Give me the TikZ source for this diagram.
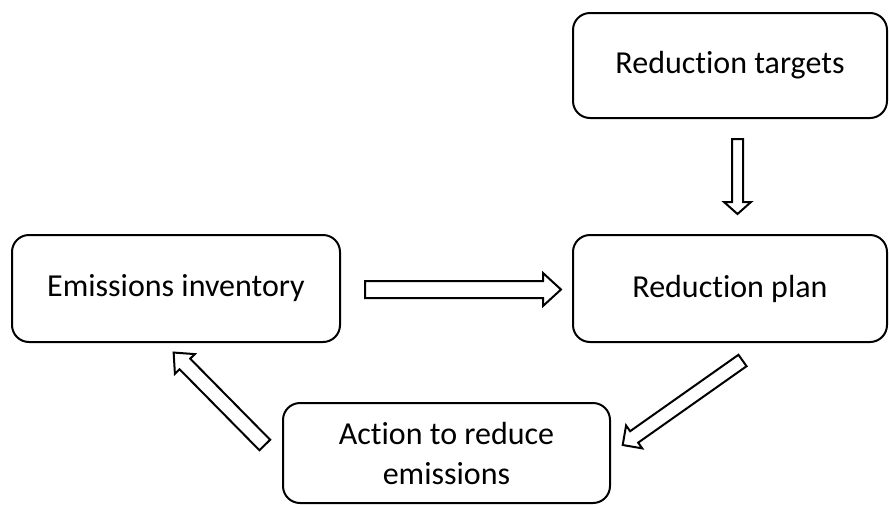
\documentclass[tikz,border=0pt]{standalone}
\usepackage{fontspec}
\setmainfont[Ligatures=NoCommon]{Carlito}
\usetikzlibrary{calc}

\tikzset{
    stage/.style={draw, line width=2pt, rounded corners=17pt, align=center,
        inner sep=0pt, font=\fontsize{32}{40}\selectfont},
    arrowline/.style={draw, line width=2pt, line join=miter, fill=white}
}

% tail, tip, half shaft width, half head width, head length
\newcommand{\hollowarrow}[5]{%
    \draw[arrowline] let \p1=($(#2)-(#1)$), \n1={atan2(\y1,\x1)}, \n2={veclen(\x1,\y1)} in
        [shift={(#1)}, rotate=\n1]
        (0,#3) -- ({\n2-#5},#3) -- ({\n2-#5},#4) -- ({\n2},0)
        -- ({\n2-#5},-#4) -- ({\n2-#5},-#3) -- (0,-#3) -- cycle;
}

\begin{document}
\begin{tikzpicture}[x=1pt, y=-1pt]
    \useasboundingbox (0,0) rectangle (889,504);

    \node[stage, minimum width=314pt, minimum height=105pt] (targets) at (730,65.5) {Reduction targets};
    \node[stage, minimum width=314pt, minimum height=107pt] (plan) at (730,288.5) {Reduction plan};
    \node[stage, minimum width=328pt, minimum height=107pt] (inventory) at (176,288.5) {Emissions inventory};
    \node[stage, minimum width=327pt, minimum height=100pt] (action) at (446.5,453) {Action to reduce\\emissions};

    % arrow ends
    \coordinate (t-tail) at ($(targets.south)+(7.5,20)$);
    \coordinate (t-tip) at ($(plan.north)+(7.5,-20)$);
    \coordinate (i-tail) at ($(inventory.east)+(24,1)$);
    \coordinate (i-tip) at ($(plan.west)+(-11,1)$);
    \coordinate (p-tail) at ($(plan.south)+(12.5,17.5)$);
    \coordinate (p-tip) at ($(action.east)+(11.7,-8)$);
    \coordinate (a-tail) at ($(action.west)+(-17.2,-8)$);
    \coordinate (a-tip) at ($(inventory.south)+(-2.7,9.2)$);

    \hollowarrow{t-tail}{t-tip}{5.5}{13.5}{12}
    \hollowarrow{i-tail}{i-tip}{8.5}{16.5}{18}
    \hollowarrow{p-tail}{p-tip}{7}{14}{14}
    \hollowarrow{a-tail}{a-tip}{7.5}{14}{16}
\end{tikzpicture}
\end{document}
